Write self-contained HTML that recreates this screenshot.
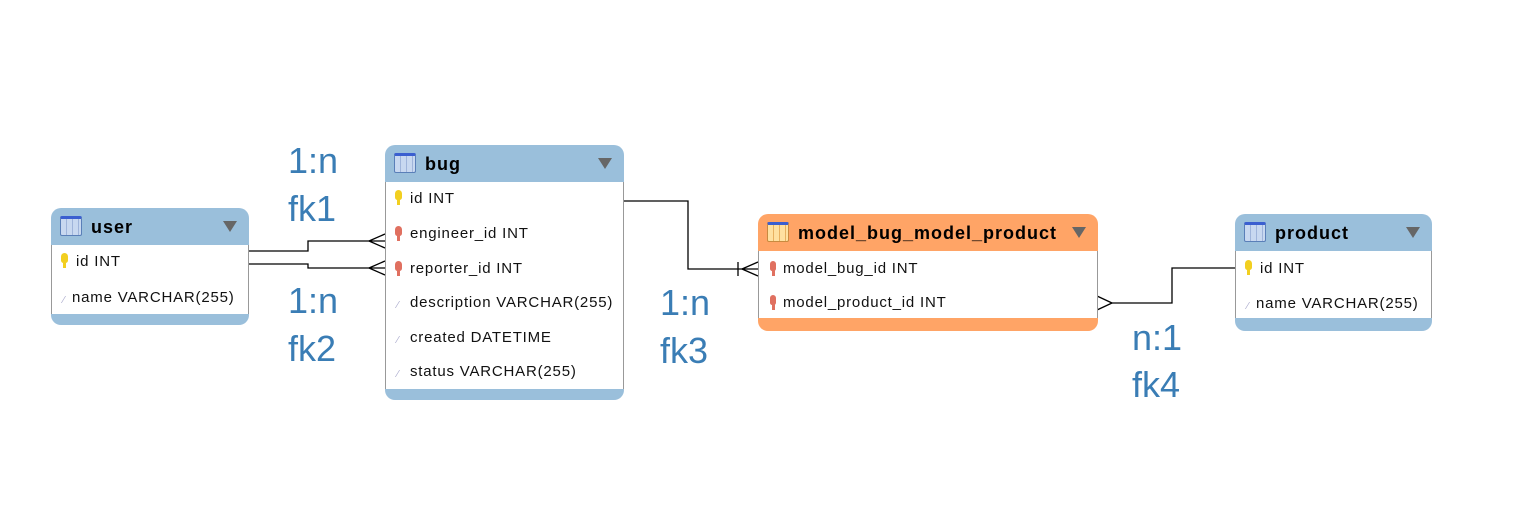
<!DOCTYPE html>
<html><head><meta charset="utf-8"><style>
body{margin:0;width:1519px;height:507px;background:#fff;position:relative;overflow:hidden;font-family:"Liberation Sans",sans-serif}
.t{position:absolute;border-radius:10px;background:#fff;overflow:hidden;box-sizing:border-box}
.h{position:absolute;left:0;right:0;top:0;height:37px;background:#9abfdb;font-weight:bold;font-size:18px;letter-spacing:1px;color:#000}
.h span.n{position:absolute;left:40px;top:9px}
.ic{position:absolute;left:9px;top:8px;width:22px;height:20px;border:1px solid #5a7fb8;border-top:3px solid #3b5fd0;background:repeating-linear-gradient(90deg,#c8d8f0 0 5px,#9fb4da 5px 6px);border-radius:2px;box-sizing:border-box}
.ar{position:absolute;right:12px;top:13px;width:0;height:0;border-left:7px solid transparent;border-right:7px solid transparent;border-top:11px solid #666}
.b{position:absolute;left:0;right:0;top:37px;border-left:1px solid #999;border-right:1px solid #999}
.f{position:absolute;left:0;right:0;bottom:0;height:11px;background:#9abfdb}
.r{position:absolute;left:24px;font-size:15px;letter-spacing:0.8px;color:#111;white-space:nowrap}
.k{position:absolute;left:9px;width:7px;height:10px;border-radius:4px 4px 3px 3px}
.k:after{content:"";position:absolute;left:2px;top:8px;width:3px;height:7px;background:inherit}
.y{background:#f2cf20}.rd{background:#e07060}
.d{position:absolute;left:11px;font-size:10px;color:#aac}
.lb{position:absolute;font-size:36px;color:#3a7db5}
</style></head><body>
<svg width="1519" height="507" style="position:absolute;left:0;top:0" fill="none" stroke="#000" stroke-width="1.3">
<polyline points="249,251 308,251 308,241 385,241"/>
<path d="M369,241 L385,234 M369,241 L385,248 M369,268 L385,261 M369,268 L385,275"/>
<polyline points="249,264 308,264 308,268 385,268"/>
<polyline points="623,201 688,201 688,269 758,269"/>
<path d="M738,262 L738,276 M742,269 L758,262 M742,269 L758,276"/>
<polyline points="1112,303 1172,303 1172,268 1235,268"/>
<path d="M1112,303 L1097,296 M1112,303 L1097,310"/>
</svg>

<div class="t" style="left:51px;top:208px;width:198px;height:117px">
<div class="h"><div class="ic"></div><span class="n">user</span><div class="ar"></div></div>
<div class="b" style="height:69px"><div class="k y" style="top:8px"></div><div class="r" style="top:8px;left:24px">id INT</div><div class="d" style="top:50px">⁄</div><div class="r" style="top:44px;left:20px">name VARCHAR(255)</div></div>
<div class="f"></div></div>

<div class="t" style="left:385px;top:145px;width:239px;height:255px">
<div class="h"><div class="ic"></div><span class="n">bug</span><div class="ar"></div></div>
<div class="b" style="height:207px">
<div class="k y" style="top:8px"></div><div class="r" style="top:8px">id INT</div>
<div class="k rd" style="top:44px"></div><div class="r" style="top:43px">engineer_id INT</div>
<div class="k rd" style="top:79px"></div><div class="r" style="top:78px">reporter_id INT</div>
<div class="d" style="top:118px">⁄</div><div class="r" style="top:112px">description VARCHAR(255)</div>
<div class="d" style="top:153px">⁄</div><div class="r" style="top:147px">created DATETIME</div>
<div class="d" style="top:187px">⁄</div><div class="r" style="top:181px">status VARCHAR(255)</div>
</div>
<div class="f"></div></div>

<div class="t" style="left:758px;top:214px;width:340px;height:117px">
<div class="h" style="background:#ffa466"><div class="ic" style="border-color:#c88a40;border-top-color:#3b5fd0;background:repeating-linear-gradient(90deg,#ffe0a0 0 5px,#e8b060 5px 6px)"></div><span class="n">model_bug_model_product</span><div class="ar"></div></div>
<div class="b" style="height:69px">
<div class="k rd" style="top:10px;left:11px;width:6px"></div><div class="r" style="top:9px">model_bug_id INT</div>
<div class="k rd" style="top:44px;left:11px;width:6px"></div><div class="r" style="top:43px">model_product_id INT</div>
</div>
<div class="f" style="background:#ffa466;height:13px"></div></div>

<div class="t" style="left:1235px;top:214px;width:197px;height:117px">
<div class="h"><div class="ic"></div><span class="n">product</span><div class="ar"></div></div>
<div class="b" style="height:69px"><div class="k y" style="top:9px"></div><div class="r" style="top:9px">id INT</div><div class="d" style="top:50px">⁄</div><div class="r" style="top:44px;left:20px">name VARCHAR(255)</div></div>
<div class="f" style="height:13px"></div></div>

<div class="lb" style="left:288px;top:140px">1:n</div>
<div class="lb" style="left:288px;top:188px">fk1</div>
<div class="lb" style="left:288px;top:280px">1:n</div>
<div class="lb" style="left:288px;top:328px">fk2</div>
<div class="lb" style="left:660px;top:282px">1:n</div>
<div class="lb" style="left:660px;top:330px">fk3</div>
<div class="lb" style="left:1132px;top:317px">n:1</div>
<div class="lb" style="left:1132px;top:364px">fk4</div>
</body></html>
